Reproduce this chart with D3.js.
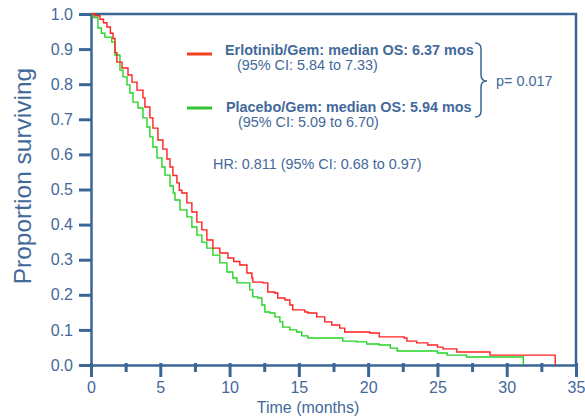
<!DOCTYPE html>
<html>
<head>
<meta charset="utf-8">
<script src="https://cdn.jsdelivr.net/npm/d3@7"></script>
<style>
  body { margin: 0; background: #fff; }
  svg { display: block; font-family: "Liberation Sans", Arial, sans-serif; }
</style>
</head>
<body>
<svg width="585" height="419"></svg>
<script>
// Kaplan-Meier readings (months, proportion surviving)
var erlotinibTime = [0, 0.3, 0.65, 0.9, 1.15, 1.4, 1.59, 1.73, 1.87, 2.24, 2.67, 2.96, 3.32, 3.75, 3.89, 4.25, 4.47, 4.83,
  5.19, 5.48, 5.7, 5.91, 6.2, 6.37, 6.56, 6.92, 7.28, 7.64, 8.0, 8.36, 8.8, 9.3, 9.88, 10.3, 10.74, 11.25, 11.61, 11.68,
  12.4, 12.76, 13.27, 13.48, 13.99, 14.35, 14.56, 15.43, 15.65, 16.29, 16.87, 17.38, 17.95, 18.31, 20.12, 20.8, 22.6,
  22.8, 23.5, 24.3, 25.0, 25.4, 26.4, 28.8, 33.5];
var erlotinibSurv = [1.0, 0.995, 0.985, 0.975, 0.963, 0.945, 0.93, 0.89, 0.863, 0.846, 0.826, 0.806, 0.783, 0.761, 0.735, 0.704, 0.675, 0.641,
  0.615, 0.587, 0.564, 0.54, 0.519, 0.498, 0.49, 0.462, 0.436, 0.407, 0.385, 0.356, 0.333, 0.319, 0.305, 0.295, 0.285, 0.262, 0.248, 0.236,
  0.234, 0.208, 0.205, 0.191, 0.185, 0.171, 0.157, 0.151, 0.148, 0.137, 0.123, 0.114, 0.105, 0.094, 0.091, 0.08, 0.077,
  0.068, 0.063, 0.057, 0.051, 0.046, 0.037, 0.028, 0];

var placeboTime = [0, 0.2, 0.5, 0.75, 1.0, 1.5, 1.73, 2.09, 2.31, 2.6, 2.81, 3.03, 3.39, 3.75, 4.04, 4.25, 4.47, 4.76,
  5.12, 5.34, 5.7, 5.94, 6.06, 6.42, 6.92, 7.28, 7.64, 8.0, 8.36, 8.8, 9.3, 9.81, 10.24, 10.53, 11.46, 11.68, 12.04,
  12.33, 12.55, 12.91, 13.27, 13.63, 13.84, 14.35, 14.85, 15.21, 15.65, 18.17, 19.18, 19.9, 20.8, 21.6, 22.1, 25.0,
  25.7, 27.1, 31.2];
var placeboSurv = [1.0, 0.99, 0.96, 0.945, 0.934, 0.92, 0.883, 0.84, 0.821, 0.798, 0.775, 0.749, 0.732, 0.704, 0.678, 0.65, 0.621, 0.59,
  0.564, 0.541, 0.51, 0.49, 0.47, 0.442, 0.422, 0.393, 0.37, 0.35, 0.333, 0.313, 0.291, 0.265, 0.248, 0.234, 0.214, 0.194, 0.191,
  0.171, 0.151, 0.148, 0.137, 0.123, 0.108, 0.1, 0.094, 0.083, 0.077, 0.068, 0.066, 0.06, 0.057, 0.048, 0.04, 0.034,
  0.028, 0.023, 0];

var xMajorTicks = [0, 5, 10, 15, 20, 25, 30, 35];
var xMinorTicks = [2.5, 7.5, 12.5, 17.5, 22.5, 27.5, 32.5];
var yTicks = [0, 0.1, 0.2, 0.3, 0.4, 0.5, 0.6, 0.7, 0.8, 0.9, 1.0];

var seriesLabels = ["Erlotinib/Gem: median OS: 6.37 mos", "Placebo/Gem: median OS: 5.94 mos"];
var ciLabels = ["(95% CI: 5.84 to 7.33)", "(95% CI: 5.09 to 6.70)"];
var pLabel = "p= 0.017";
var hrLabel = "HR: 0.811 (95% CI: 0.68 to 0.97)";

var axisColor = "#3a6696",
    textColor = "#43699a",
    red = "#ff2020",
    green = "#22d422";

var svg = d3.select("svg");
var plotLeft = 91, plotRight = 576, plotTop = 14, plotBottom = 365;

var x = d3.scaleLinear().domain([0, 35]).range([plotLeft, plotRight]);
var y = d3.scaleLinear().domain([0, 1]).range([plotBottom, plotTop]);

// frame top and right
svg.append("path")
  .attr("d", "M" + plotLeft + "," + plotTop + "H" + plotRight + "V" + plotBottom)
  .attr("fill", "none")
  .attr("stroke", axisColor)
  .attr("stroke-width", 2.5);

// x axis minor ticks
var gxMinor = svg.append("g")
  .attr("transform", "translate(0," + plotBottom + ")")
  .call(d3.axisBottom(x).tickValues(xMinorTicks).tickSize(7).tickFormat(""));
gxMinor.select(".domain").remove();
gxMinor.selectAll("line").attr("y1", -2).attr("stroke", axisColor).attr("stroke-width", 3);

// x axis major
var gx = svg.append("g")
  .attr("transform", "translate(0," + plotBottom + ")")
  .call(d3.axisBottom(x).tickValues(xMajorTicks).tickSize(12).tickSizeOuter(0).tickPadding(5));
gx.select(".domain").attr("stroke", axisColor).attr("stroke-width", 2.5);
gx.selectAll("line").attr("y1", -2).attr("stroke", axisColor).attr("stroke-width", 3);
gx.selectAll("text").attr("fill", textColor).style("font-size", "16px");

// y axis
var gy = svg.append("g")
  .attr("transform", "translate(" + plotLeft + ",0)")
  .call(d3.axisLeft(y).tickValues(yTicks).tickSize(12).tickSizeOuter(0).tickPadding(6).tickFormat(d3.format(".1f")));
gy.select(".domain").attr("stroke", axisColor).attr("stroke-width", 2.5);
gy.selectAll("line").attr("stroke", axisColor).attr("stroke-width", 3);
gy.selectAll("text").attr("fill", textColor).style("font-size", "16px");

// axis titles
svg.append("text")
  .attr("transform", "translate(31,176) rotate(-90)")
  .attr("text-anchor", "middle")
  .attr("fill", textColor)
  .style("font-size", "24.5px")
  .text("Proportion surviving");

svg.append("text")
  .attr("x", 308).attr("y", 413)
  .attr("text-anchor", "middle")
  .attr("fill", textColor)
  .style("font-size", "16px")
  .text("Time (months)");

// curves
var line = d3.line()
  .x(function(d) { return x(d[0]); })
  .y(function(d) { return y(d[1]); })
  .curve(d3.curveStepAfter);

var placeboData = d3.zip(placeboTime, placeboSurv);
var erlotinibData = d3.zip(erlotinibTime, erlotinibSurv);

svg.append("path").datum(placeboData)
  .attr("d", line).attr("fill", "none")
  .attr("stroke", green).attr("stroke-width", 1.4);
svg.append("path").datum(erlotinibData)
  .attr("d", line).attr("fill", "none")
  .attr("stroke", red).attr("stroke-width", 1.4);

// legend
var legendRows = [
  { color: "#f0401e", ly: 54, tx: 225, ty: 55, cx: 237, cy: 70 },
  { color: "#33c233", ly: 108, tx: 226, ty: 112, cx: 238, cy: 127 }
];
legendRows.forEach(function(r, i) {
  svg.append("line")
    .attr("x1", 187).attr("x2", 212).attr("y1", r.ly).attr("y2", r.ly)
    .attr("stroke", r.color).attr("stroke-width", 3);
  svg.append("text")
    .attr("x", r.tx).attr("y", r.ty)
    .attr("fill", textColor).style("font-size", "14.4px").style("font-weight", "bold")
    .text(seriesLabels[i]);
  svg.append("text")
    .attr("x", r.cx).attr("y", r.cy)
    .attr("fill", textColor).style("font-size", "14.4px")
    .text(ciLabels[i]);
});

// brace
svg.append("path")
  .attr("d", "M475,43 Q481,43 481,49 V75 Q481,81 487,81 Q481,81 481,87 V111 Q481,117 475,117")
  .attr("fill", "none")
  .attr("stroke", axisColor)
  .attr("stroke-width", 1.5);

svg.append("text")
  .attr("x", 496).attr("y", 86)
  .attr("fill", textColor).style("font-size", "14.4px")
  .text(pLabel);

svg.append("text")
  .attr("x", 213).attr("y", 169)
  .attr("fill", textColor).style("font-size", "14.4px")
  .text(hrLabel);
</script>
</body>
</html>
